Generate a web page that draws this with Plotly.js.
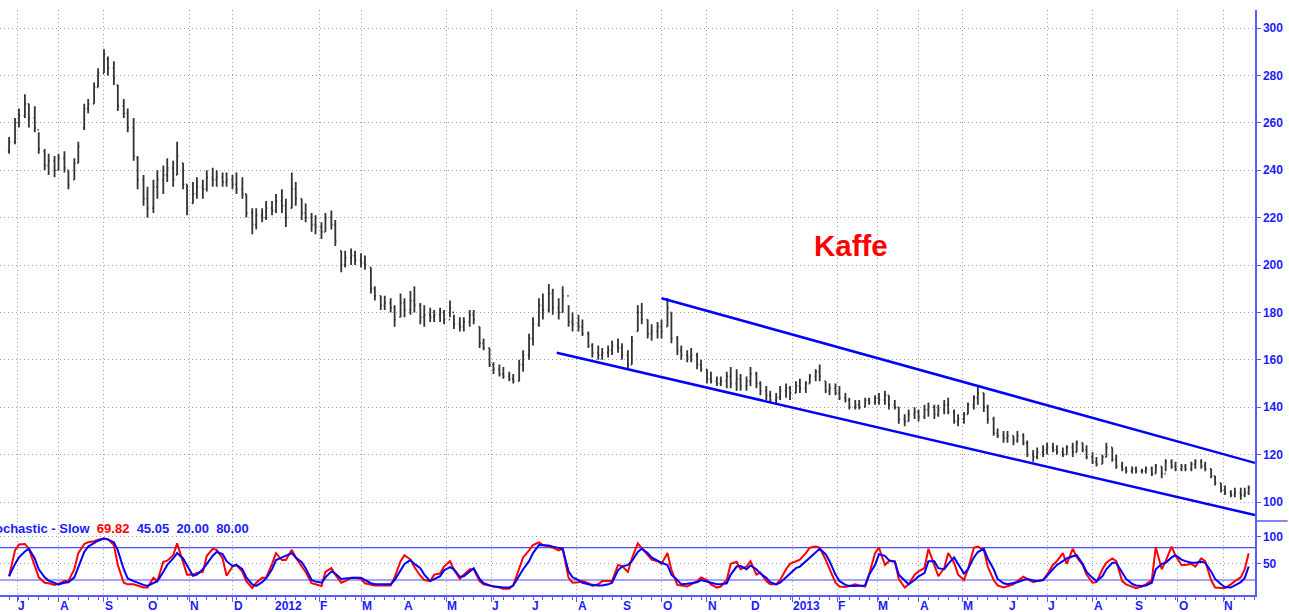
<!DOCTYPE html>
<html><head><meta charset="utf-8">
<script src="https://cdn.plot.ly/plotly-3.0.1.min.js"></script>
<style>html,body{margin:0;padding:0;background:#fff;}#chart{width:1289px;height:612px;}</style>
</head><body><div id="chart"></div>
<script>
// Half-weekly sample dates (Mon / Thu)
const dates = [
'2011-06-27','2011-06-30',
'2011-07-04','2011-07-07','2011-07-11','2011-07-14','2011-07-18','2011-07-21','2011-07-25','2011-07-28',
'2011-08-01','2011-08-04','2011-08-08','2011-08-11','2011-08-15','2011-08-18','2011-08-22','2011-08-25','2011-08-29','2011-09-01',
'2011-09-05','2011-09-08','2011-09-12','2011-09-15','2011-09-19','2011-09-22','2011-09-26','2011-09-29',
'2011-10-03','2011-10-06','2011-10-10','2011-10-13','2011-10-17','2011-10-20','2011-10-24','2011-10-27','2011-10-31','2011-11-03',
'2011-11-07','2011-11-10','2011-11-14','2011-11-17','2011-11-21','2011-11-24','2011-11-28','2011-12-01',
'2011-12-05','2011-12-08','2011-12-12','2011-12-15','2011-12-19','2011-12-22','2011-12-26','2011-12-29',
'2012-01-02','2012-01-05','2012-01-09','2012-01-12','2012-01-16','2012-01-19','2012-01-23','2012-01-26','2012-01-30','2012-02-02',
'2012-02-06','2012-02-09','2012-02-13','2012-02-16','2012-02-20','2012-02-23','2012-02-27','2012-03-01',
'2012-03-05','2012-03-08','2012-03-12','2012-03-15','2012-03-19','2012-03-22','2012-03-26','2012-03-29',
'2012-04-02','2012-04-05','2012-04-09','2012-04-12','2012-04-16','2012-04-19','2012-04-23','2012-04-26','2012-04-30','2012-05-03',
'2012-05-07','2012-05-10','2012-05-14','2012-05-17','2012-05-21','2012-05-24','2012-05-28','2012-05-31',
'2012-06-04','2012-06-07','2012-06-11','2012-06-14','2012-06-18','2012-06-21','2012-06-25','2012-06-28',
'2012-07-02','2012-07-05','2012-07-09','2012-07-12','2012-07-16','2012-07-19','2012-07-23','2012-07-26','2012-07-30','2012-08-02',
'2012-08-06','2012-08-09','2012-08-13','2012-08-16','2012-08-20','2012-08-23','2012-08-27','2012-08-30',
'2012-09-03','2012-09-06','2012-09-10','2012-09-13','2012-09-17','2012-09-20','2012-09-24','2012-09-27',
'2012-10-01','2012-10-04','2012-10-08','2012-10-11','2012-10-15','2012-10-18','2012-10-22','2012-10-25','2012-10-29','2012-11-01',
'2012-11-05','2012-11-08','2012-11-12','2012-11-15','2012-11-19','2012-11-22','2012-11-26','2012-11-29',
'2012-12-03','2012-12-06','2012-12-10','2012-12-13','2012-12-17','2012-12-20','2012-12-24','2012-12-27','2012-12-31','2013-01-03',
'2013-01-07','2013-01-10','2013-01-14','2013-01-17','2013-01-21','2013-01-24','2013-01-28','2013-01-31',
'2013-02-04','2013-02-07','2013-02-11','2013-02-14','2013-02-18','2013-02-21','2013-02-25','2013-02-28',
'2013-03-04','2013-03-07','2013-03-11','2013-03-14','2013-03-18','2013-03-21','2013-03-25','2013-03-28',
'2013-04-01','2013-04-04','2013-04-08','2013-04-11','2013-04-15','2013-04-18','2013-04-22','2013-04-25','2013-04-29','2013-05-02',
'2013-05-06','2013-05-09','2013-05-13','2013-05-16','2013-05-20','2013-05-23','2013-05-27','2013-05-30',
'2013-06-03','2013-06-06','2013-06-10','2013-06-13','2013-06-17','2013-06-20','2013-06-24','2013-06-27',
'2013-07-01','2013-07-04','2013-07-08','2013-07-11','2013-07-15','2013-07-18','2013-07-22','2013-07-25','2013-07-29','2013-08-01',
'2013-08-05','2013-08-08','2013-08-12','2013-08-15','2013-08-19','2013-08-22','2013-08-26','2013-08-29',
'2013-09-02','2013-09-05','2013-09-09','2013-09-12','2013-09-16','2013-09-19','2013-09-23','2013-09-26','2013-09-30','2013-10-03',
'2013-10-07','2013-10-10','2013-10-14','2013-10-17','2013-10-21','2013-10-24','2013-10-28','2013-10-31',
'2013-11-04','2013-11-07','2013-11-11','2013-11-14','2013-11-18','2013-11-20'
];

const high = [
254,262,266,272,268,267,256,249,247,246,247,248,240,245,252,268,270,277,283,291,
288,286,276,270,266,262,246,238,233,236,240,242,245,244,252,243,234,235,237,236,
240,241,240,239,239,238,239,237,230,224,224,224,227,227,230,232,228,239,235,228,
226,222,221,218,222,223,219,206,206,207,206,205,204,199,191,187,187,186,183,188,
186,189,191,184,183,182,181,182,181,185,179,178,178,181,181,174,169,165,159,158,
157,155,154,160,164,171,178,186,188,192,190,186,191,183,180,179,177,172,167,166,
165,166,168,169,167,164,170,183,184,177,175,176,177,186,180,170,166,164,165,163,
160,156,155,153,153,155,157,156,154,153,157,155,151,149,147,146,149,150,149,151,
152,151,154,156,158,151,150,150,149,146,144,143,143,144,144,145,146,147,145,143,
140,137,139,140,139,141,142,141,141,143,144,139,137,138,142,145,149,146,141,136,
131,130,130,128,130,129,126,122,123,124,125,125,124,123,124,125,126,125,124,121,
119,120,125,123,120,117,115,115,115,114,115,115,116,115,118,118,117,116,116,117,
118,118,117,114,111,108,107,105,106,106,106,107
];
const low = [
247,251,258,262,258,256,247,240,238,237,240,239,232,236,243,257,264,268,275,281,
280,276,265,262,256,244,232,225,220,222,228,230,235,233,238,232,221,226,228,228,
231,233,233,233,233,232,230,228,220,213,215,218,219,221,222,222,216,224,225,219,
218,214,213,211,214,215,208,197,199,200,200,199,198,188,185,181,181,180,174,178,
178,179,180,175,174,176,176,176,175,178,173,172,172,174,175,165,164,157,154,153,
152,151,150,151,155,160,166,174,177,180,179,177,180,174,172,172,170,165,161,160,
160,161,162,163,160,156,158,172,175,169,168,169,169,174,167,162,160,159,159,156,
155,150,150,149,149,148,148,147,147,147,149,148,145,143,142,141,143,144,143,146,
146,146,150,151,151,146,145,145,143,142,139,139,139,140,141,141,141,141,139,139,
133,132,134,135,134,135,136,135,136,137,137,133,132,133,137,139,141,138,133,128,
127,125,125,124,125,124,119,117,118,119,120,121,120,119,120,119,121,121,118,116,
115,116,119,117,114,113,112,112,112,112,112,111,112,110,113,114,113,113,113,113,
114,114,113,110,107,104,103,102,102,101,102,103
];
const open = [
248,252,260,263,268,262,257,248,242,244,240,245,240,236,243,258,266,268,275,281,
287,283,276,267,264,258,245,236,228,224,233,236,238,241,238,243,234,226,230,233,
232,237,236,237,235,236,234,232,230,222,217,221,220,224,223,227,225,224,232,228,
222,220,217,216,214,220,217,206,200,203,204,202,201,199,190,187,183,184,182,178,
184,181,185,183,178,179,178,179,180,177,180,175,174,176,179,174,167,165,158,156,
154,153,152,151,158,162,169,175,183,181,188,182,180,187,176,175,174,171,166,163,
162,163,164,166,165,162,158,172,180,177,171,172,174,174,180,169,164,162,161,162,
158,156,152,151,150,151,153,150,152,149,151,154,150,147,145,143,144,147,148,146,
149,148,150,153,155,151,147,148,146,144,143,140,141,140,143,142,144,143,145,141,
140,135,134,137,138,136,139,140,137,139,141,138,134,135,137,141,144,146,140,135,
129,128,127,128,126,128,125,120,119,121,122,123,122,121,120,123,121,125,122,119,
117,116,119,123,118,115,114,113,114,113,113,114,112,115,112,117,115,114,115,114,
116,117,115,114,111,108,105,104,103,104,103,104
];
const close = [
252,260,263,268,262,258,249,242,244,240,245,241,234,243,250,266,268,275,281,289,
283,279,267,264,258,246,236,228,224,233,236,238,241,236,246,234,224,230,233,232,
237,236,237,235,236,234,232,230,222,217,221,220,224,223,227,225,220,232,228,222,
220,217,216,214,220,217,210,200,203,204,202,201,200,190,187,183,184,182,177,184,
181,185,183,178,179,178,179,180,177,182,175,174,176,179,177,167,165,158,156,154,
153,152,151,158,162,169,175,183,181,188,182,180,187,176,175,174,171,166,163,162,
163,164,166,165,162,158,168,180,177,171,172,174,172,182,169,164,162,161,162,158,
156,152,151,150,151,153,150,152,149,151,154,150,147,145,143,144,147,148,146,149,
148,150,153,155,153,147,148,146,144,143,140,141,140,143,142,144,143,145,141,140,
135,134,137,138,136,139,140,137,139,141,138,134,135,137,141,144,146,140,135,129,
128,127,128,126,128,125,120,119,121,122,123,122,121,120,123,121,125,122,119,117,
116,119,123,118,115,114,113,114,113,113,114,112,115,112,117,115,114,115,114,116,
117,115,114,111,108,105,104,103,104,103,104,106
];

// Stochastic - Slow: %K (red) and %D (blue)
const stochK = [
27,75,86,87,78,48,25,15,14,11,13,18,18,40,70,87,90,92,95,97,
96,85,48,15,12,12,10,6,6,24,18,54,56,66,88,52,30,30,33,35,
65,78,76,60,28,45,48,35,18,5,15,24,24,50,70,57,57,76,62,45,
35,14,12,9,35,42,30,15,18,24,24,22,14,11,10,10,10,10,25,55,
66,58,44,28,20,18,30,32,45,55,39,22,30,40,40,18,12,10,9,6,
4,4,10,40,62,75,85,90,85,82,80,75,78,24,15,16,18,14,9,12,
18,18,18,48,46,35,60,88,80,68,58,55,50,70,39,11,10,8,12,18,
25,20,12,6,8,20,50,54,40,45,55,30,34,18,12,12,20,40,50,54,
58,70,80,82,80,58,40,15,8,7,9,12,10,8,30,70,80,48,55,55,
22,6,12,30,36,42,78,48,27,42,70,52,30,20,40,80,82,76,45,20,
10,6,8,12,18,26,22,16,18,20,30,48,55,70,50,78,63,48,30,15,
16,40,52,60,55,18,12,7,5,8,12,20,81,40,55,82,65,48,48,50,
45,60,55,20,6,5,5,12,18,25,40,69.82
];
const stochD = [
27,50,62,73,78,60,40,25,19,14,12,15,16,25,45,72,82,88,93,97,
95,90,75,40,23,18,15,11,9,14,18,35,48,60,70,60,48,28,30,40,
50,65,72,68,55,46,48,40,25,12,9,16,23,40,57,62,66,70,62,53,
42,20,17,15,25,36,32,22,23,24,24,24,20,14,12,12,12,12,20,39,
50,57,50,42,30,18,22,27,38,44,40,26,27,36,42,22,14,10,8,7,
6,6,10,28,40,55,70,85,85,84,82,79,78,36,25,20,15,12,11,10,
10,12,15,38,45,48,55,72,78,70,62,56,52,48,30,20,12,13,14,16,
20,17,14,12,12,14,30,45,46,40,47,40,32,24,16,12,15,25,32,42,
45,55,62,72,78,68,55,30,18,11,9,9,9,10,30,48,68,65,57,54,
30,20,12,20,27,33,55,55,42,40,50,62,50,32,40,62,72,78,60,40,
22,14,12,14,16,20,22,19,18,20,28,40,48,55,60,64,66,50,35,24,
18,27,40,52,52,34,22,13,10,9,10,15,40,50,52,62,66,58,55,52,
52,54,52,36,22,12,7,6,10,16,24,45.05
];
const stochLevels = [20, 80];

// Trend channel end points
const upperX = ['2012-10-01', '2013-11-25 04:00'];
const upperY = [186, 116.5];
const lowerX = ['2012-07-18', '2013-11-25 04:00'];
const lowerY = [163, 94.5];

const priceTicks = [100,120,140,160,180,200,220,240,260,280,300];
const stochTicks = [50, 100];
const monthStarts = ['2011-07-01','2011-08-01','2011-09-01','2011-10-01','2011-11-01','2011-12-01',
 '2012-01-01','2012-02-01','2012-03-01','2012-04-01','2012-05-01','2012-06-01','2012-07-01','2012-08-01',
 '2012-09-01','2012-10-01','2012-11-01','2012-12-01','2013-01-01','2013-02-01','2013-03-01','2013-04-01',
 '2013-05-01','2013-06-01','2013-07-01','2013-08-01','2013-09-01','2013-10-01','2013-11-01'];
const monthLabels = ['J','A','S','O','N','D','2012','F','M','A','M','J','J','A','S','O','N','D','2013',
 'F','M','A','M','J','J','A','S','O','N'];
const chartTitle = 'Kaffe';
const stochName = 'Stochastic - Slow';

const txtBlue = '#1c1cff';
const lineBlue = '#5a5aff';
const gridCol = '#a0a0a0';
const gridDash = '1px,3px';
const fontFam = 'Liberation Sans, Arial, sans-serif';
const barCol = '#333333';

const traces = [
  {type:'ohlc', x:dates, open:open, high:high, low:low, close:close, xaxis:'x', yaxis:'y',
   increasing:{line:{color:barCol, width:1.8}}, decreasing:{line:{color:barCol, width:1.8}},
   tickwidth:0.3, hoverinfo:'skip', showlegend:false},
  {type:'scatter', mode:'lines', x:upperX, y:upperY, xaxis:'x', yaxis:'y',
   line:{color:'#0000ff', width:2.5}, hoverinfo:'skip', showlegend:false},
  {type:'scatter', mode:'lines', x:lowerX, y:lowerY, xaxis:'x', yaxis:'y',
   line:{color:'#0000ff', width:2.5}, hoverinfo:'skip', showlegend:false},
  {type:'scatter', mode:'lines', x:dates, y:stochK, xaxis:'x', yaxis:'y2',
   line:{color:'#ff0000', width:2}, hoverinfo:'skip', showlegend:false},
  {type:'scatter', mode:'lines', x:dates, y:stochD, xaxis:'x', yaxis:'y2',
   line:{color:'#0000ff', width:2}, hoverinfo:'skip', showlegend:false}
];

const boldFont = {family:fontFam, size:12, color:txtBlue, weight:'bold'};

const annotations = monthLabels.map((t, i) => ({
  text:t, xref:'x', x:monthStarts[i], yref:'paper', y:0, xanchor:'left', yanchor:'top',
  yshift:-2, xshift:-1, showarrow:false, font:boldFont
}));
annotations.push({
  text:chartTitle, xref:'paper', x:0.678, yref:'paper', y:0.588, xanchor:'center', yanchor:'middle',
  showarrow:false, font:{family:fontFam, size:29.5, color:'#ff0000', weight:'bold'}
});
const lastK = stochK[stochK.length-1].toFixed(2);
const lastD = stochD[stochD.length-1].toFixed(2);
annotations.push({
  text: stochName + '\u00a0 <span style="color:#ff0000">' + lastK + '</span>\u00a0 ' + lastD +
        '\u00a0 ' + stochLevels[0].toFixed(2) + '\u00a0 ' + stochLevels[1].toFixed(2),
  xref:'paper', x:-0.0163, yref:'paper', y:0.1126, xanchor:'left', yanchor:'middle',
  showarrow:false, font:{family:fontFam, size:13, color:txtBlue, weight:'bold'}
});

const shapes = stochLevels.map(v => ({
  type:'line', xref:'paper', x0:0, x1:1, yref:'y2', y0:v, y1:v,
  line:{color:'#4a4aff', width:1.2}, layer:'below'
}));
shapes.push({type:'line', xref:'paper', x0:1, x1:1.026, yref:'paper', y0:0.1244, y1:0.1244,
  line:{color:lineBlue, width:1.5}});

const layout = {
  width:1289, height:612,
  margin:{l:0, r:34, t:0, b:17, pad:0},
  paper_bgcolor:'#ffffff', plot_bgcolor:'#ffffff',
  showlegend:false,
  font:{family:fontFam, size:12, color:txtBlue},
  xaxis:{
    type:'date', anchor:'y2', domain:[0,1],
    range:['2011-06-20 09:36','2013-11-25 04:30'],
    rangebreaks:[{bounds:['sat','mon']}],
    rangeslider:{visible:false},
    tickmode:'array', tickvals:monthStarts, showticklabels:false,
    ticks:'outside', ticklen:5, tickcolor:lineBlue, tickwidth:1,
    minor:{ticks:'outside', ticklen:3, tickcolor:lineBlue, dtick:7*86400000, tick0:'2011-06-27', showgrid:false},
    showgrid:true, gridcolor:gridCol, griddash:gridDash, gridwidth:1,
    showline:true, linecolor:lineBlue, linewidth:1.5,
    zeroline:false, fixedrange:true, automargin:false
  },
  yaxis:{
    domain:[0.1244, 0.9832], range:[92.0, 307.6], side:'right', anchor:'x',
    tickmode:'array', tickvals:priceTicks, ticks:'outside', ticklen:4, tickcolor:lineBlue,
    showline:true, linecolor:lineBlue, linewidth:1.5,
    showgrid:true, gridcolor:gridCol, griddash:gridDash, gridwidth:1,
    tickfont:boldFont, zeroline:false, automargin:false, fixedrange:true
  },
  yaxis2:{
    domain:[0, 0.1244], range:[-7.8, 129.6], side:'right', anchor:'x',
    tickmode:'array', tickvals:stochTicks, ticks:'outside', ticklen:4, tickcolor:lineBlue,
    showline:true, linecolor:lineBlue, linewidth:1.5,
    showgrid:true, gridcolor:gridCol, griddash:gridDash, gridwidth:1,
    tickfont:boldFont, zeroline:false, automargin:false, fixedrange:true
  },
  annotations:annotations,
  shapes:shapes
};

Plotly.newPlot('chart', traces, layout, {staticPlot:true, displayModeBar:false});
</script>
</body></html>
